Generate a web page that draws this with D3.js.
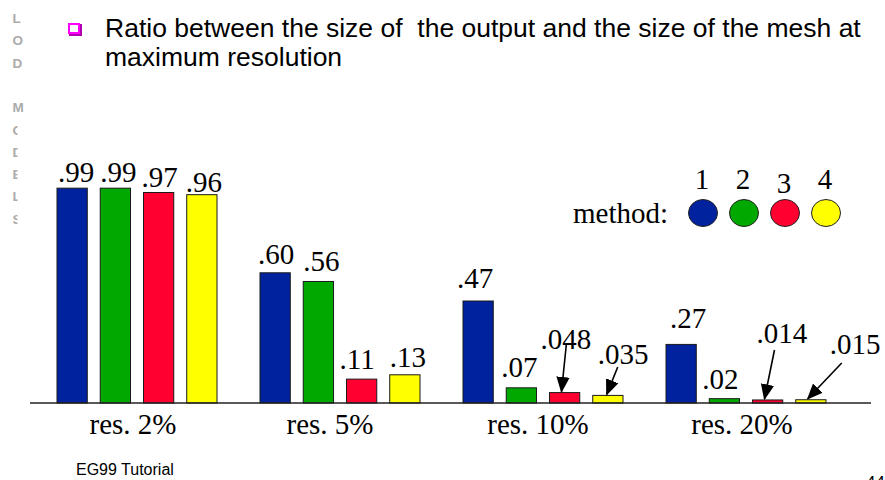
<!DOCTYPE html>
<html>
<head>
<meta charset="utf-8">
<script src="https://cdn.jsdelivr.net/npm/d3@7"></script>
<style>
  body { margin: 0; background: #fff; }
  svg { display: block; }
</style>
</head>
<body>
<svg id="chart" width="885" height="480"></svg>
<script>
// data
var groups = ["res. 2%", "res. 5%", "res. 10%", "res. 20%"];
var methods = ["1", "2", "3", "4"];
var ratio2 = [0.99, 0.99, 0.97, 0.96];
var ratio5 = [0.60, 0.56, 0.11, 0.13];
var ratio10 = [0.47, 0.07, 0.048, 0.035];
var ratio20 = [0.27, 0.02, 0.014, 0.015];
var valueLabels = [
  [".99", ".99", ".97", ".96"],
  [".60", ".56", ".11", ".13"],
  [".47", ".07", ".048", ".035"],
  [".27", ".02", ".014", ".015"]
];
var sideLetters = ["L", "O", "D", "", "M", "O", "D", "E", "L", "S"];

var colors = ["#00229e", "#00a800", "#ff0030", "#ffff00"];
var serif = "'Liberation Serif', 'DejaVu Serif', serif";
var sans = "'Liberation Sans', Arial, sans-serif";

var svg = d3.select("#chart");

// build rows
var table = [ratio2, ratio5, ratio10, ratio20].map(function(vals, gi) {
  return vals.map(function(v, mi) {
    return {group: groups[gi], method: methods[mi], value: v, label: valueLabels[gi][mi]};
  });
});

var baseline = 403;

var x0 = d3.scaleBand()
  .domain(groups)
  .range([57, 869])
  .paddingInner(0)
  .paddingOuter(0);

var x1 = d3.scaleBand()
  .domain(methods)
  .range([0, 160])
  .paddingInner(0.3)
  .paddingOuter(0);

var y = d3.scaleLinear()
  .domain([0, 1])
  .range([baseline, baseline - 217]);

var color = d3.scaleOrdinal().domain(methods).range(colors);

// side strip letters
var side = svg.append("g").attr("class", "side");
svg.append("clipPath").attr("id", "sideclip")
  .append("rect").attr("x", 0).attr("y", 0).attr("width", 17.5).attr("height", 480);
side.selectAll("text")
  .data(sideLetters)
  .enter().append("text")
  .attr("x", 12.5)
  .attr("y", function(d, i) { return 23 + i * 22.3; })
  .attr("clip-path", function(d, i) { return i > 4 ? "url(#sideclip)" : null; })
  .style("font-family", sans)
  .style("font-weight", "bold")
  .style("font-size", "13.5px")
  .style("fill", "#ababab")
  .text(function(d) { return d; });

// title bullet
svg.append("rect")
  .attr("x", 70).attr("y", 25).attr("width", 11).attr("height", 10)
  .attr("fill", "none").attr("stroke", "#b000b0").attr("stroke-width", 2);
svg.append("rect")
  .attr("x", 69).attr("y", 24).attr("width", 10).attr("height", 9)
  .attr("fill", "#fff").attr("stroke", "#ff00ff").attr("stroke-width", 2);

var title = svg.append("text")
  .style("font-family", sans)
  .style("font-size", "26.5px")
  .style("fill", "#000");
title.append("tspan").attr("x", 105).attr("y", 37)
  .attr("xml:space", "preserve")
  .text("Ratio between the size of  the output and the size of the mesh at");
title.append("tspan").attr("x", 105).attr("y", 66)
  .text("maximum resolution");

// bars
var gGroups = svg.selectAll("g.grp")
  .data(table)
  .enter().append("g")
  .attr("class", "grp")
  .attr("transform", function(d, i) { return "translate(" + x0(groups[i]) + ",0)"; });

gGroups.selectAll("rect")
  .data(function(d) { return d; })
  .enter().append("rect")
  .attr("x", function(d) { return x1(d.method); })
  .attr("y", function(d) { return y(d.value); })
  .attr("width", x1.bandwidth())
  .attr("height", function(d) { return baseline - y(d.value); })
  .attr("fill", function(d) { return color(d.method); })
  .attr("stroke", "#1a1a1a")
  .attr("stroke-width", 1);

// baseline axis
svg.append("line")
  .attr("x1", 30).attr("x2", 871)
  .attr("y1", baseline).attr("y2", baseline)
  .attr("stroke", "#222").attr("stroke-width", 1.5);

// value labels: offsets for the ones pointed at by arrows
var labelOffset = {
  "res. 2%": [[1, -6], [0, -6], [-2, -6], [-1, -3]],
  "res. 5%": [[-2, -9], [0, -10], [-7, -10], [0, -8]],
  "res. 10%": [[-6, -13], [-5, -11], [-9, -44], [5, -31]],
  "res. 20%": [[4, -16], [-7, -10], [4, -57], [34, -46]]
};

gGroups.selectAll("text.val")
  .data(function(d) { return d; })
  .enter().append("text")
  .attr("class", "val")
  .attr("x", function(d, i) { return x1(d.method) + labelOffset[d.group][i][0]; })
  .attr("y", function(d, i) { return y(d.value) + labelOffset[d.group][i][1]; })
  .style("font-family", serif)
  .style("font-size", "29px")
  .style("fill", "#000")
  .text(function(d) { return d.label; });

// arrows for the tiny bars
var defs = svg.append("defs");
defs.append("marker")
  .attr("id", "arrow")
  .attr("viewBox", "0 0 12 10")
  .attr("refX", 11).attr("refY", 5)
  .attr("markerWidth", 10).attr("markerHeight", 9)
  .attr("markerUnits", "strokeWidth")
  .attr("orient", "auto")
  .append("path").attr("d", "M0,0 L12,5 L0,10 z").attr("fill", "#000");

var arrowDefs = [
  {g: "res. 10%", m: "3", dx0: 17, dy0: 343, dx1: 12},
  {g: "res. 10%", m: "4", dx0: 25, dy0: 367, dx1: 14},
  {g: "res. 20%", m: "3", dx0: 22, dy0: 350, dx1: 12},
  {g: "res. 20%", m: "4", dx0: 46, dy0: 363, dx1: 12}
];
var valueOf = {"res. 10%": ratio10, "res. 20%": ratio20};
svg.selectAll("line.arrow")
  .data(arrowDefs)
  .enter().append("line")
  .attr("class", "arrow")
  .attr("x1", function(d) { return x0(d.g) + x1(d.m) + d.dx0; })
  .attr("y1", function(d) { return d.dy0; })
  .attr("x2", function(d) { return x0(d.g) + x1(d.m) + d.dx1; })
  .attr("y2", function(d) { return y(valueOf[d.g][methods.indexOf(d.m)]) - 1; })
  .attr("stroke", "#000")
  .attr("stroke-width", 1.6)
  .attr("marker-end", "url(#arrow)");

// group labels
var groupShift = [-4, -10, -5, -4];
svg.selectAll("text.grp")
  .data(groups)
  .enter().append("text")
  .attr("class", "grp")
  .attr("x", function(d, i) { return x0(d) + 80 + groupShift[i]; })
  .attr("y", 434)
  .attr("text-anchor", "middle")
  .style("font-family", serif)
  .style("font-size", "29px")
  .style("fill", "#000")
  .text(function(d) { return d; });

// legend
var legend = svg.append("g").attr("class", "legend");
legend.append("text")
  .attr("x", 668).attr("y", 223)
  .attr("text-anchor", "end")
  .style("font-family", serif)
  .style("font-size", "29px")
  .text("method:");

var lx = d3.scalePoint().domain(methods).range([703, 826]);
legend.selectAll("ellipse")
  .data(methods)
  .enter().append("ellipse")
  .attr("cx", function(d) { return lx(d); })
  .attr("cy", 213)
  .attr("rx", 14.5).attr("ry", 13.5)
  .attr("fill", function(d) { return color(d); })
  .attr("stroke", "#222").attr("stroke-width", 1);

legend.selectAll("text.num")
  .data(methods)
  .enter().append("text")
  .attr("class", "num")
  .attr("x", function(d) { return lx(d) - 1; })
  .attr("y", function(d, i) { return i === 2 ? 193 : 189; })
  .attr("text-anchor", "middle")
  .style("font-family", serif)
  .style("font-size", "29px")
  .text(function(d) { return d; });

// footer
svg.append("text")
  .attr("x", 76).attr("y", 475)
  .style("font-family", sans)
  .style("font-size", "16px")
  .text("EG99 Tutorial");
svg.append("text")
  .attr("x", 866).attr("y", 488)
  .style("font-family", sans)
  .style("font-size", "17px")
  .text("44");
</script>
</body>
</html>
